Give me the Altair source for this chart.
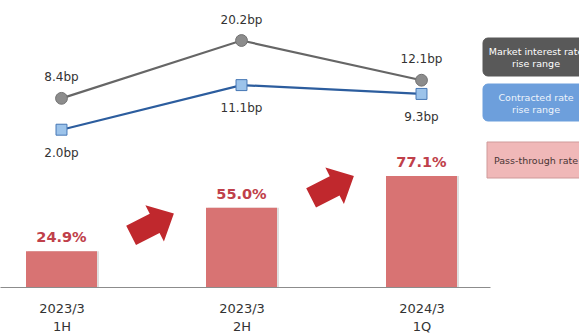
import altair as alt
import pandas as pd

# ---- data ----
categories = ["2023/3|1H", "2023/3|2H", "2024/3|1Q"]
pass_through = [24.9, 55.0, 77.1]          # %
market_bp = [8.4, 20.2, 12.1]              # bp
contracted_bp = [2.0, 11.1, 9.3]           # bp
legend_labels = ["Market interest rate|rise range", "Contracted rate|rise range", "Pass-through rate"]

idx = list(range(len(categories)))
bars_df = pd.DataFrame({"idx": idx, "pct": pass_through,
                        "label": [f"{v:.1f}%" for v in pass_through]})
mkt_df = pd.DataFrame({"idx": idx, "bp": market_bp, "label": [f"{v:.1f}bp" for v in market_bp]})
con_df = pd.DataFrame({"idx": idx, "bp": contracted_bp, "label": [f"{v:.1f}bp" for v in contracted_bp]})
arrow_df = pd.DataFrame({
    "idx": [(idx[i] + idx[i + 1]) / 2 for i in range(len(idx) - 1)],
    "pct": [(pass_through[i] + pass_through[i + 1]) / 2 for i in range(len(idx) - 1)],
})

FONT = "DejaVu Sans"
label_arr = "[" + ",".join("[" + ",".join(f"'{p}'" for p in c.split("|")) + "]" for c in categories) + "]"

xscale = alt.Scale(domain=[-61.5 / 180, 428.5 / 180], nice=False, zero=False, padding=0)
X = alt.X("idx:Q", scale=xscale, title=None,
          axis=alt.Axis(values=idx, labelExpr=label_arr + "[datum.value]", grid=False, ticks=False,
                        tickSize=0, domainColor="#8c8c8c", domainWidth=1, labelFont=FONT,
                        labelFontSize=13, labelColor="#333333", labelPadding=21,
                        labelLineHeight=18, labelBaseline="middle"))
pct_scale = alt.Scale(domain=[0, 287 / 1.44], nice=False, zero=False, padding=0)
bp_scale = alt.Scale(domain=[(139.5 - 287) / 4.9, 139.5 / 4.9], nice=False, zero=False, padding=0)
Ypct = alt.Y("pct:Q", scale=pct_scale, axis=None)
Ybp = alt.Y("bp:Q", scale=bp_scale, axis=None)

shadow = alt.Chart(bars_df).mark_bar(size=71, color="#bfbfbf", opacity=0.5, xOffset=2).encode(x=X, y=Ypct)
bars = alt.Chart(bars_df).mark_bar(size=71, color="#d87373").encode(x=X, y=Ypct)
bar_text = alt.Chart(bars_df).mark_text(dy=-13, font=FONT, fontSize=14.5, fontWeight="bold",
                                        color="#c0404a", baseline="middle").encode(x=X, y=Ypct, text="label:N")

arrow_path = "M -1 -0.45 L 0.1 -0.45 L 0.1 -0.85 L 1 0 L 0.1 0.85 L 0.1 0.45 L -1 0.45 Z"
arrows = alt.Chart(arrow_df).mark_point(shape=arrow_path, filled=True, size=2304, angle=333,
                                        color="#c0282d", opacity=1, yOffset=-5, xOffset=1).encode(x=X, y=Ypct)

mkt_line = alt.Chart(mkt_df).mark_line(color="#666666", strokeWidth=2.2).encode(x=X, y=Ybp)
mkt_pts = alt.Chart(mkt_df).mark_point(shape="circle", filled=True, size=140, fill="#8c8c8c",
                                       stroke="#727272", strokeWidth=1, opacity=1).encode(x=X, y=Ybp)
mkt_text = alt.Chart(mkt_df).mark_text(dy=-21, font=FONT, fontSize=12, color="#333333",
                                       baseline="middle").encode(x=X, y=Ybp, text="label:N")
con_line = alt.Chart(con_df).mark_line(color="#2c5d9e", strokeWidth=2.2).encode(x=X, y=Ybp)
con_pts = alt.Chart(con_df).mark_point(shape="square", filled=True, size=120, fill="#9cc3ea",
                                       stroke="#4677b5", strokeWidth=1, opacity=1).encode(x=X, y=Ybp)
con_text = alt.Chart(con_df).mark_text(dy=23, font=FONT, fontSize=12, color="#333333",
                                       baseline="middle").encode(x=X, y=Ybp, text="label:N")

# ---- legend boxes (decorative, in pixels) ----
def box(label, y1, y2, x1, fill, stroke, tcolor, ty, radius):
    d = pd.DataFrame({"label": [label]})
    r = alt.Chart(d).mark_rect(fill=fill, stroke=stroke, strokeWidth=1, cornerRadius=radius).encode(
        x=alt.value(x1), x2=alt.value(592), y=alt.value(y1), y2=alt.value(y2))
    t = alt.Chart(d).mark_text(font=FONT, fontSize=9.5, color=tcolor, lineBreak="|", lineHeight=11.5,
                               baseline="middle").encode(x=alt.value(536), y=alt.value(ty), text="label:N")
    return r + t

leg1 = box(legend_labels[0], 38, 76, 483, "#595959", "#595959", "#ffffff", 52, 5)
leg2 = box(legend_labels[1], 84, 121, 483, "#6d9fdc", "#6d9fdc", "#eef4fb", 98, 5)
leg3 = box(legend_labels[2], 142, 178, 487, "#f0b8b8", "#cf9a9a", "#4a3535", 161, 0)

chart = alt.layer(shadow, bars, arrows, bar_text, mkt_line, con_line, mkt_pts, con_pts,
                  mkt_text, con_text, leg1, leg2, leg3).resolve_scale(y="independent").properties(
    width=490, height=287,
    autosize=alt.AutoSizeParams(type="none"),
    padding={"left": 0, "top": 0, "right": 89, "bottom": 46},
    background="white",
).configure(font=FONT).configure_view(stroke=None)

chart.save("out.html", embed_options={"renderer": "svg", "actions": False})
